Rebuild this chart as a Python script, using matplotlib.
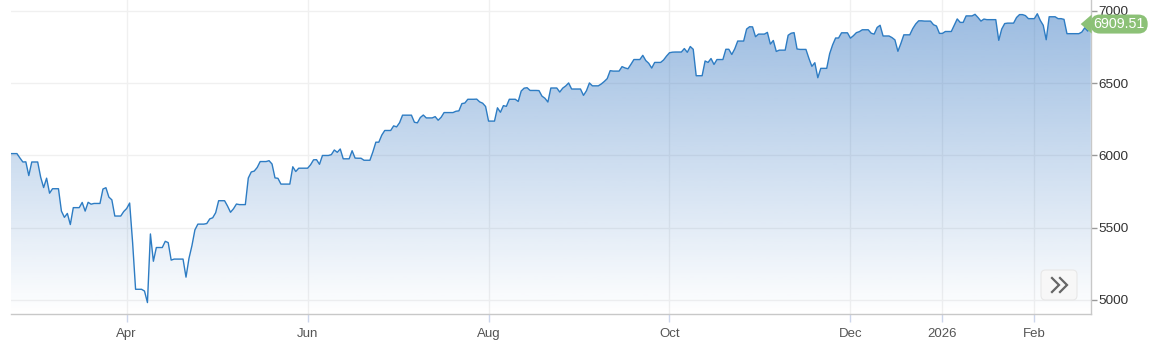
import numpy as np
import pandas as pd
import matplotlib
matplotlib.use("Agg")
import matplotlib.pyplot as plt
import matplotlib.dates as mdates
from matplotlib.colors import to_rgb
from matplotlib.patches import PathPatch, FancyBboxPatch, Polygon
from matplotlib.lines import Line2D

plt.rcParams["font.family"] = ["Liberation Sans", "DejaVu Sans"]

# daily closes, one list per month
feb25 = [6013, 5983, 5955, 5956, 5861, 5955]
mar25 = [5850, 5778, 5843, 5739, 5770, 5615, 5572, 5599, 5522, 5639, 5675, 5615, 5676,
         5663, 5668, 5768, 5777, 5712, 5693, 5581, 5612]
apr25 = [5633, 5671, 5397, 5074, 5062, 4982, 5457, 5268, 5363, 5406, 5397, 5276, 5283,
         5158, 5288, 5376, 5485, 5525, 5529, 5561, 5569]
may25 = [5604, 5687, 5650, 5607, 5631, 5664, 5660, 5844, 5886, 5892, 5917, 5958, 5964,
         5941, 5845, 5842, 5802, 5922, 5889, 5912, 5912]
jun25 = [5936, 5970, 5971, 5939, 6000, 6006, 6038, 6022, 6045, 5977, 6033, 5982, 5981,
         5967, 6025, 6092, 6092, 6141, 6173, 6205]
jul25 = [6198, 6227, 6279, 6230, 6226, 6263, 6280, 6260, 6269, 6244, 6264, 6297, 6297,
         6306, 6309, 6359, 6363, 6389, 6390, 6371, 6362, 6339]
aug25 = [6238, 6330, 6299, 6345, 6340, 6389, 6374, 6446, 6466, 6469, 6450, 6449, 6411,
         6396, 6370, 6467, 6439, 6466, 6481, 6502, 6460]
sep25 = [6416, 6448, 6502, 6482, 6495, 6512, 6532, 6587, 6584, 6615, 6606, 6600, 6631,
         6664, 6693, 6657, 6638, 6605, 6644, 6661, 6688]
oct25 = [6711, 6715, 6716, 6740, 6714, 6754, 6735, 6552, 6654, 6644, 6671, 6630, 6664,
         6735, 6735, 6699, 6738, 6792, 6875, 6891, 6890, 6822, 6840]
nov25 = [6852, 6771, 6796, 6720, 6729, 6832, 6846, 6850, 6737, 6734, 6672, 6617, 6642,
         6538, 6603, 6705, 6766, 6813, 6849]
dec25 = [6812, 6829, 6850, 6857, 6870, 6846, 6840, 6886, 6901, 6827, 6816, 6800, 6721,
         6775, 6835, 6878, 6910, 6932, 6930, 6905, 6896, 6845]
jan26 = [6858, 6902, 6945, 6921, 6921, 6966, 6977, 6955, 6930, 6944, 6940, 6797, 6875,
         6913, 6916, 6955, 6975, 6975, 6968, 6947]
feb26 = [6981, 6935, 6901, 6801, 6960, 6947, 6947, 6942, 6843, 6843, 6854, 6884, 6861,
         6909.51]

holidays = ["2025-04-18", "2025-05-26", "2025-06-19", "2025-07-04", "2025-09-01",
            "2025-11-27", "2025-12-25", "2026-01-01", "2026-01-19", "2026-02-16"]

tick_dates = ["2025-04-01", "2025-06-01", "2025-08-01", "2025-10-01", "2025-12-01",
              "2026-01-01", "2026-02-01"]
tick_labels = ["Apr", "Jun", "Aug", "Oct", "Dec", "2026", "Feb"]
y_ticks = [5000, 5500, 6000, 6500, 7000]

closes = feb25 + mar25 + apr25 + may25 + jun25 + jul25 + aug25 + sep25 + oct25 + nov25 + dec25 + jan26 + feb26
days = pd.bdate_range("2025-02-21", "2026-02-20", freq="C", holidays=holidays)
assert len(days) == len(closes)

# source chart carries the close over weekends / holidays
line = pd.Series(closes, index=days).asfreq("D").ffill()
last = closes[-1]

W, H = 1153, 343
y_lo, y_hi = 4903, 7076

fig = plt.figure(figsize=(W / 100, H / 100), dpi=100)
ax = fig.add_axes([11 / W, 1 - 314 / H, 1079.7 / W, 314 / H])

xs = mdates.date2num(line.index)
ax.plot(xs, line.values, color="#2d7cc3", lw=1.0, zorder=4)

# gradient under the line
poly = ax.fill_between(xs, line.values, y_lo, color="none", lw=0)
clip = PathPatch(poly.get_paths()[0], transform=ax.transData, fc="none", ec="none")
ax.add_patch(clip)
base = to_rgb("#286ebe")
grad = np.zeros((256, 1, 4))
grad[..., 0], grad[..., 1], grad[..., 2] = base
grad[:, 0, 3] = np.linspace(0.0, 0.48, 256)
im = ax.imshow(grad, extent=[xs[0], xs[-1], y_lo, y_hi], origin="lower",
               aspect="auto", zorder=3, interpolation="bilinear")
im.set_clip_path(clip)

ax.set_xlim(xs[0], xs[-1])
ax.set_ylim(y_lo, y_hi)

ax.set_xticks(mdates.date2num(pd.to_datetime(tick_dates)))
ax.set_xticklabels(tick_labels)
ax.set_yticks(y_ticks)
ax.set_yticklabels([str(v) for v in y_ticks])
ax.yaxis.tick_right()
ax.tick_params(axis="x", length=6, width=1, color="#ccd6eb", pad=4,
               labelsize=9.5, labelcolor="#555555")
ax.tick_params(axis="y", length=4, width=1, color="#999999", pad=1.5,
               labelsize=9.7, labelcolor="#333333")
ax.grid(True, color="#f0f0f0", lw=1, zorder=0)
ax.set_axisbelow(True)
for side in ["top", "left"]:
    ax.spines[side].set_visible(False)
for side in ["right", "bottom"]:
    ax.spines[side].set_color("#c8c8c8")
    ax.spines[side].set_linewidth(1)

# last-price tag on the right edge
fig.canvas.draw()
ax_x1, tag_y = ax.transData.transform((xs[-1], last))
to_fig = fig.transFigure.inverted()


def fpt(px, py):
    return to_fig.transform((px, py))


tip = fpt(ax_x1 - 10, tag_y)
fig.add_artist(Polygon([tip, fpt(ax_x1 + 1, tag_y + 9.5), fpt(ax_x1 + 1, tag_y - 9.5)],
                       closed=True, transform=fig.transFigure, fc="#8cc177", ec="none"))
b0 = fpt(ax_x1, tag_y - 9.5)
b1 = fpt(ax_x1 + 57, tag_y + 9.5)
fig.add_artist(FancyBboxPatch(b0, b1[0] - b0[0], b1[1] - b0[1],
                              boxstyle="round,pad=0,rounding_size=0.008",
                              transform=fig.transFigure, fc="#8cc177", ec="none",
                              mutation_aspect=W / H))
c = fpt(ax_x1 + 28, tag_y)
fig.text(c[0], c[1], f"{last:.2f}", ha="center", va="center", color="white",
         fontsize=10.3)

# scroll button bottom right
r0 = fpt(1041, H - 300)
r1 = fpt(1077, H - 270)
fig.add_artist(FancyBboxPatch(r0, r1[0] - r0[0], r1[1] - r0[1],
                              boxstyle="round,pad=0,rounding_size=0.004",
                              transform=fig.transFigure, fc="#f7f7f7", ec="#e8e8e8",
                              lw=0.8, mutation_aspect=W / H))
for dx in [0, 8]:
    pts = [fpt(1052 + dx, H - 278), fpt(1059 + dx, H - 285), fpt(1052 + dx, H - 292)]
    fig.add_artist(Line2D([p[0] for p in pts], [p[1] for p in pts],
                          transform=fig.transFigure, color="#666666", lw=1.6,
                          solid_joinstyle="miter"))

fig.savefig("out.png", dpi=100)
